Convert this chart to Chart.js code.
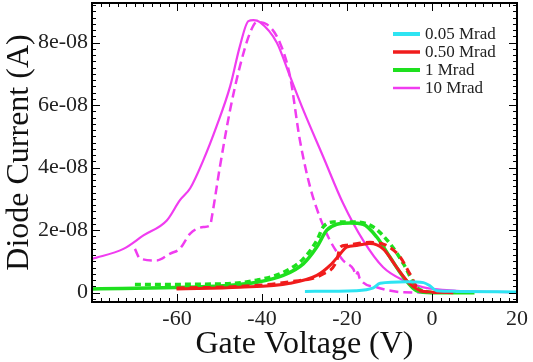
<!DOCTYPE html>
<html>
<head>
<meta charset="utf-8">
<script src="https://cdn.jsdelivr.net/npm/chart.js@4.4.1/dist/chart.umd.min.js"></script>
<style>
  html, body { margin: 0; padding: 0; background: #fff; }
  #wrap { width: 533px; height: 362px; }
</style>
</head>
<body>
<div id="wrap"><canvas id="diodeChart"></canvas></div>
<script>
// gate voltage (V) and diode current (in 1e-8 A)
let vCyan = [-29.9, -18, -13.8, -12.2, -6, -2, -0.5, 1.1, 5.8, 20];
let iCyan = [0.04, 0.06, 0.15, 0.30, 0.35, 0.32, 0.22, 0.06, 0.04, 0.02];

let vRed = [-60.1, -45.2, -33.4, -27.1, -24, -21.6, -20.1, -17.7, -14.6, -11.5, -8.3, -5.2, -2, 5];
let iRed = [0.12, 0.17, 0.30, 0.55, 0.87, 1.24, 1.46, 1.51, 1.57, 1.40, 0.81, 0.28, 0.04, 0];
let vRedDash = [-60.1, -45, -33.4, -25.6, -22.4, -21.6, -20.1, -14.6, -10.7, -7.5, -5.2, -2.8, 2];
let iRedDash = [0.15, 0.20, 0.35, 0.60, 1.03, 1.46, 1.52, 1.61, 1.51, 1.14, 0.60, 0.06, 0];

let vGreen = [-80, -49.1, -41.2, -35, -30.3, -27.1, -24.8, -22.4, -19.3, -16.2, -13, -9.9, -6.7, -3.6, 0, 10];
let iGreen = [0.12, 0.22, 0.33, 0.55, 0.92, 1.46, 1.99, 2.19, 2.23, 2.19, 1.78, 1.14, 0.49, 0.06, 0, 0];
let vGreenDash = [-69.9, -49, -41.2, -35, -30.3, -27.1, -25.6, -23.2, -17.7, -13.8, -9.9, -6.7, -3.6, 0];
let iGreenDash = [0.26, 0.28, 0.40, 0.65, 1.08, 1.67, 2.10, 2.26, 2.26, 2.10, 1.57, 0.92, 0.17, 0];

let vMag = [-80, -72.6, -67.9, -62.4, -59.3, -56.9, -53.8, -50.7, -47.5, -45.2, -43.2, -42, -40.5, -36.5, -33.4, -30.3, -25.6, -20.9, -16.2, -11.5, -6.7, -2, 5.8, 20];
let iMag = [1.08, 1.40, 1.83, 2.31, 2.96, 3.34, 4.24, 5.32, 6.60, 7.89, 8.69, 8.72, 8.66, 8.00, 6.92, 5.85, 4.35, 2.85, 1.67, 0.81, 0.39, 0.17, 0.06, 0.01];
let vMagDash = [-69.9, -68.7, -64.8, -61.6, -59.3, -56.9, -53.8, -52.2, -51.8, -49.9, -47.5, -45.2, -42.8, -41.2, -38.9, -35.8, -33.4, -31.1, -28.7, -26.4, -24, -20.9, -18.5, -17.9, -17.5, -17, -13, -6.7, 0];
let iMagDash = [1.40, 1.09, 1.03, 1.25, 1.41, 1.89, 2.10, 2.15, 2.42, 4.03, 5.85, 7.24, 8.32, 8.66, 8.59, 8.00, 6.92, 4.89, 3.39, 2.42, 1.67, 1.03, 0.75, 0.55, 0.65, 0.45, 0.17, 0.01, 0];

let seriesLabels = ['0.05 Mrad', '0.50 Mrad', '1 Mrad', '10 Mrad'];
let xTickLabels = ['', '-60', '-40', '-20', '0', '20'];      // at -80, -60, ... 20
let yTickValues = [0, 2, 4, 6, 8];                            // x1e-8
let yTickLabels = ['0', '2e-08', '4e-08', '6e-08', '8e-08'];

function pts(xs, ys) {
  return xs.map((x, i) => ({x: x, y: ys[i]}));
}

const serif = '"Liberation Serif", "Times New Roman", serif';

// inward ticks on all four sides plus the black frame
const frameTicks = {
  id: 'frameTicks',
  afterDatasetsDraw(chart) {
    const {ctx, chartArea: a, scales: {x, y}} = chart;
    ctx.save();
    ctx.strokeStyle = '#000';
    ctx.lineWidth = 1;
    ctx.beginPath();
    for (let k = -40; k <= 10; k++) {
      let px = Math.round(x.getPixelForValue(k * 2)) + 0.5;
      let len = (k % 10 === 0) ? 8 : 4;
      ctx.moveTo(px, a.bottom); ctx.lineTo(px, a.bottom - len);
      ctx.moveTo(px, a.top); ctx.lineTo(px, a.top + len);
    }
    for (let k = -1; k <= 46; k++) {
      let py = Math.round(y.getPixelForValue(k * 0.2)) + 0.5;
      if (py < a.top || py > a.bottom) continue;
      let len = (k % 10 === 0) ? 8 : 4;
      ctx.moveTo(a.left, py); ctx.lineTo(a.left + len, py);
      ctx.moveTo(a.right, py); ctx.lineTo(a.right - len, py);
    }
    ctx.stroke();
    ctx.lineWidth = 2;
    ctx.strokeRect(a.left, a.top, a.right - a.left, a.bottom - a.top);
    ctx.restore();
  }
};

// legend sitting inside the plot, top right
const insideLegend = {
  id: 'insideLegend',
  afterDraw(chart) {
    const {ctx, chartArea: a} = chart;
    ctx.save();
    ctx.font = '17px ' + serif;
    ctx.textBaseline = 'middle';
    ctx.fillStyle = '#222';
    let row = 0;
    chart.data.datasets.forEach(ds => {
      if (!ds.inLegend) return;
      let yy = a.top + 31 + row * 18;
      let x0 = a.right - 124;
      ctx.strokeStyle = ds.borderColor;
      ctx.lineWidth = ds.legendWidth;
      ctx.beginPath();
      ctx.moveTo(x0, yy); ctx.lineTo(x0 + 27, yy);
      ctx.stroke();
      ctx.fillText(ds.label, x0 + 32, yy + 1);
      row++;
    });
    ctx.restore();
  }
};

const cyan = '#2ee4f2', red = '#f01c1c', green = '#1ee01e', magenta = '#f03cf0';

let datasets = [
  {label: seriesLabels[0], data: pts(vCyan, iCyan), borderColor: cyan, borderWidth: 3, inLegend: true, legendWidth: 4},
  {label: seriesLabels[1], data: pts(vRed, iRed), borderColor: red, borderWidth: 3, inLegend: true, legendWidth: 3.5},
  {label: seriesLabels[1], data: pts(vRedDash, iRedDash), borderColor: red, borderWidth: 3, borderDash: [8, 5]},
  {label: seriesLabels[2], data: pts(vGreen, iGreen), borderColor: green, borderWidth: 3.5, inLegend: true, legendWidth: 4},
  {label: seriesLabels[2], data: pts(vGreenDash, iGreenDash), borderColor: green, borderWidth: 3.5, borderDash: [6, 4]},
  {label: seriesLabels[3], data: pts(vMag, iMag), borderColor: magenta, borderWidth: 2.2, inLegend: true, legendWidth: 2.5},
  {label: seriesLabels[3], data: pts(vMagDash, iMagDash), borderColor: magenta, borderWidth: 2.5, borderDash: [9, 5]}
];
datasets.forEach(ds => {
  ds.pointRadius = 0;
  ds.fill = false;
  ds.cubicInterpolationMode = 'monotone';
});

let ctx = document.getElementById('diodeChart').getContext('2d');
let chart = new Chart(ctx, {
  type: 'line',
  data: {datasets: datasets},
  plugins: [frameTicks, insideLegend],
  options: {
    responsive: true,
    maintainAspectRatio: false,
    animation: false,
    devicePixelRatio: 1,
    layout: {padding: {top: 3, right: 16, left: 0, bottom: 0}},
    plugins: {
      legend: {display: false},
      tooltip: {enabled: false}
    },
    scales: {
      x: {
        type: 'linear',
        min: -80,
        max: 20,
        afterFit: s => { s.height = 60; },
        grid: {display: false, drawTicks: false},
        border: {display: false},
        ticks: {
          stepSize: 20,
          autoSkip: false,
          maxRotation: 0,
          padding: 4,
          color: '#222',
          font: {family: serif, size: 22},
          callback: v => xTickLabels[Math.round((v + 80) / 20)]
        },
        title: {
          display: true,
          text: 'Gate Voltage (V)',
          color: '#111',
          font: {family: serif, size: 32, lineHeight: 1},
          padding: {top: 0, bottom: 1}
        }
      },
      y: {
        min: -0.3,
        max: 9.27,
        afterBuildTicks: s => { s.ticks = yTickValues.map(v => ({value: v})); },
        afterFit: s => { s.width = 92; s.paddingTop = 0; s.paddingBottom = 0; },
        grid: {display: false, drawTicks: false},
        border: {display: false},
        ticks: {
          padding: 4,
          color: '#222',
          font: {family: serif, size: 22},
          callback: (v, i) => yTickLabels[i]
        },
        title: {
          display: true,
          text: 'Diode Current (A)',
          color: '#111',
          font: {family: serif, size: 32, lineHeight: 1},
          padding: {top: 4, bottom: 0}
        }
      }
    }
  }
});
</script>
</body>
</html>
